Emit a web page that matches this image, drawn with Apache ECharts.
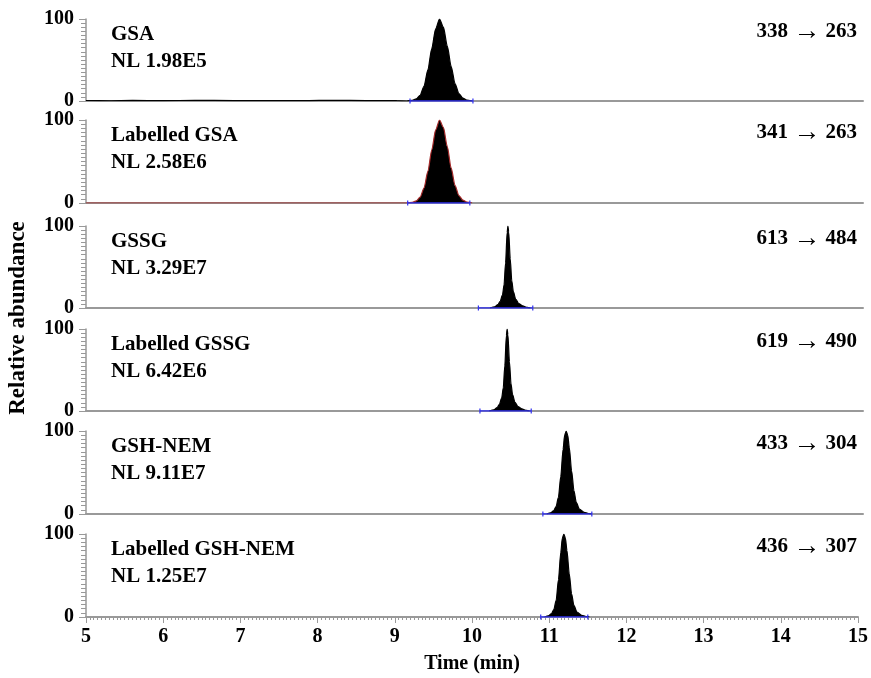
<!DOCTYPE html>
<html><head><meta charset="utf-8">
<script src="https://cdn.jsdelivr.net/npm/echarts@6/dist/echarts.min.js"></script>
<style>html,body{margin:0;padding:0;background:#fff}#c{width:871px;height:678px}</style>
</head><body><div id="c"></div>
<script>
// Panel names, normalization levels and transitions
const names = ["GSA", "Labelled GSA", "GSSG", "Labelled GSSG", "GSH-NEM", "Labelled GSH-NEM"];
const nls = ["NL 1.98E5", "NL 2.58E6", "NL 3.29E7", "NL 6.42E6", "NL 9.11E7", "NL 1.25E7"];
const precursors = ["338", "341", "613", "619", "433", "436"];
const products = ["263", "263", "484", "490", "304", "307"];
const xTicks = [5, 6, 7, 8, 9, 10, 11, 12, 13, 14, 15];

// Chromatograms (time in min, relative abundance %)
const gsaT = [5.0, 5.3, 5.6, 6.0, 6.4, 6.9, 7.3, 7.8, 8.2, 8.6, 9.0, 9.13, 9.20, 9.25, 9.30, 9.35, 9.40, 9.45, 9.50, 9.55, 9.60, 9.65, 9.70, 9.75, 9.80, 9.85, 9.90, 9.97];
const gsaI = [0.6, 0.3, 0.7, 0.4, 0.8, 0.5, 0.6, 0.4, 0.9, 0.5, 0.4, 0, 0.8, 2.5, 7, 18, 38, 64, 88, 100, 90, 67, 42, 21, 9, 3.5, 1.2, 0];
const lgsaT = [5.0, 9.13, 9.20, 9.25, 9.30, 9.35, 9.40, 9.45, 9.50, 9.55, 9.60, 9.65, 9.70, 9.75, 9.80, 9.85, 9.90, 9.97];
const lgsaI = [0, 0, 0.8, 2.5, 7, 18, 38, 64, 88, 100, 91, 68, 42, 21, 9, 3.5, 1.2, 0];
const gssgT = [10.20, 10.26, 10.30, 10.33, 10.36, 10.38, 10.40, 10.42, 10.43, 10.44, 10.46, 10.48, 10.50, 10.53, 10.57, 10.62, 10.68, 10.72];
const gssgI = [0, 1.5, 4, 8, 16, 28, 55, 92, 100, 93, 60, 33, 20, 11, 5.5, 2.5, 0.7, 0];
const lgssgT = [10.19, 10.25, 10.29, 10.32, 10.35, 10.37, 10.39, 10.41, 10.42, 10.43, 10.45, 10.47, 10.49, 10.52, 10.56, 10.61, 10.67, 10.71];
const lgssgI = [0, 1.5, 4, 8, 16, 28, 55, 92, 100, 93, 60, 33, 20, 11, 5.5, 2.5, 0.7, 0];
const nemT = [10.93, 10.98, 11.02, 11.05, 11.08, 11.11, 11.14, 11.16, 11.18, 11.20, 11.22, 11.25, 11.28, 11.31, 11.35, 11.41, 11.48, 11.51];
const nemI = [0, 1.5, 4, 9, 20, 45, 78, 95, 100, 95, 80, 52, 28, 14, 6, 2, 0.5, 0];
const lnemT = [10.94, 10.99, 11.03, 11.06, 11.09, 11.12, 11.15, 11.17, 11.19, 11.21, 11.23, 11.26, 11.29, 11.32, 11.36, 11.42, 11.49, 11.52];
const lnemI = [0, 1.5, 4, 9, 20, 45, 78, 95, 100, 95, 80, 52, 28, 14, 6, 2, 0.5, 0];
// Integration baselines (start, end) in min
const integStart = [9.17, 9.14, 10.05, 10.07, 10.88, 10.89];
const integEnd = [9.98, 9.94, 10.75, 10.73, 11.51, 11.50];

const traces = [[gsaT, gsaI], [lgsaT, lgsaI], [gssgT, gssgI], [lgssgT, lgssgI], [nemT, nemI], [lnemT, lnemI]];
const lineColors = ["#000", "#a52a2a", "#000", "#000", "#000", "#000"];

const tops = [19, 120, 226, 329, 431, 534];
const bottoms = [101, 203, 308, 411, 514, 617];
const font = "Liberation Serif";
const axisGray = "#999";

const grids = [], xAxes = [], yAxes = [], series = [], graphics = [];
for (let i = 0; i < 6; i++) {
  const last = i === 5;
  grids.push({left: 86, right: 8, top: tops[i], height: bottoms[i] - tops[i]});
  xAxes.push({
    type: 'value', gridIndex: i, min: xTicks[0], max: xTicks[xTicks.length - 1], interval: 1,
    axisLine: {show: true, lineStyle: {color: axisGray, width: 2}},
    axisTick: {show: last, length: 6, lineStyle: {color: axisGray}},
    minorTick: {show: last, splitNumber: 20, length: 3, lineStyle: {color: axisGray}},
    axisLabel: {show: last, color: '#000', fontFamily: font, fontWeight: 'bold', fontSize: 20, margin: 10},
    splitLine: {show: false},
    name: last ? 'Time (min)' : '', nameLocation: 'middle', nameGap: 37,
    nameTextStyle: {color: '#000', fontFamily: font, fontWeight: 'bold', fontSize: 20}
  });
  yAxes.push({
    type: 'value', gridIndex: i, min: 0, max: 100, interval: 100,
    axisLine: {show: true, lineStyle: {color: axisGray, width: 1.5}},
    axisTick: {show: true, length: 7, lineStyle: {color: axisGray}},
    minorTick: {show: true, splitNumber: 20, length: 5, lineStyle: {color: axisGray}},
    axisLabel: {color: '#000', fontFamily: font, fontWeight: 'bold', fontSize: 20, margin: 12},
    splitLine: {show: false}
  });
  const [ts, vs] = traces[i];
  series.push({
    type: 'line', xAxisIndex: i, yAxisIndex: i, data: ts.map((t, k) => [t, vs[k]]),
    showSymbol: false, smooth: 0.25, smoothMonotone: 'x',
    lineStyle: {color: lineColors[i], width: 1.2},
    areaStyle: {color: '#000', opacity: 1}, z: 2
  });
  series.push({
    type: 'line', xAxisIndex: i, yAxisIndex: i, data: [[integStart[i], 0], [integEnd[i], 0]],
    symbol: 'rect', symbolSize: [1.2, 5], showSymbol: true,
    itemStyle: {color: '#3030f0'}, lineStyle: {color: '#3030f0', width: 1.5}, z: 3
  });
  graphics.push({type: 'text', x: 111, y: tops[i] + 16,
    style: {text: names[i], font: 'bold 21px "Liberation Serif"', fill: '#000', verticalAlign: 'middle'}});
  graphics.push({type: 'text', x: 111, y: tops[i] + 43,
    style: {text: nls[i], font: 'bold 21px "Liberation Serif"', fill: '#000', verticalAlign: 'middle'}});
  graphics.push({type: 'text', x: 857, y: tops[i] + 13,
    style: {text: '{t|' + precursors[i] + ' }{a|\u2192}{t| ' + products[i] + '}',
      align: 'right', verticalAlign: 'middle',
      rich: {t: {font: 'bold 21px "Liberation Serif"', fill: '#000', color: '#000'},
             a: {font: 'bold 27px "Liberation Serif"', fill: '#000', color: '#000'}}}});
}
graphics.push({type: 'text', x: 18, y: 318, rotation: Math.PI / 2,
  style: {text: 'Relative abundance', font: 'bold 23px "Liberation Serif"', fill: '#000', align: 'center', verticalAlign: 'middle'}});

const chart = echarts.init(document.getElementById('c'), null, {renderer: 'canvas'});
chart.setOption({
  animation: false, backgroundColor: '#fff',
  grid: grids, xAxis: xAxes, yAxis: yAxes, series: series, graphic: graphics
});
</script></body></html>
